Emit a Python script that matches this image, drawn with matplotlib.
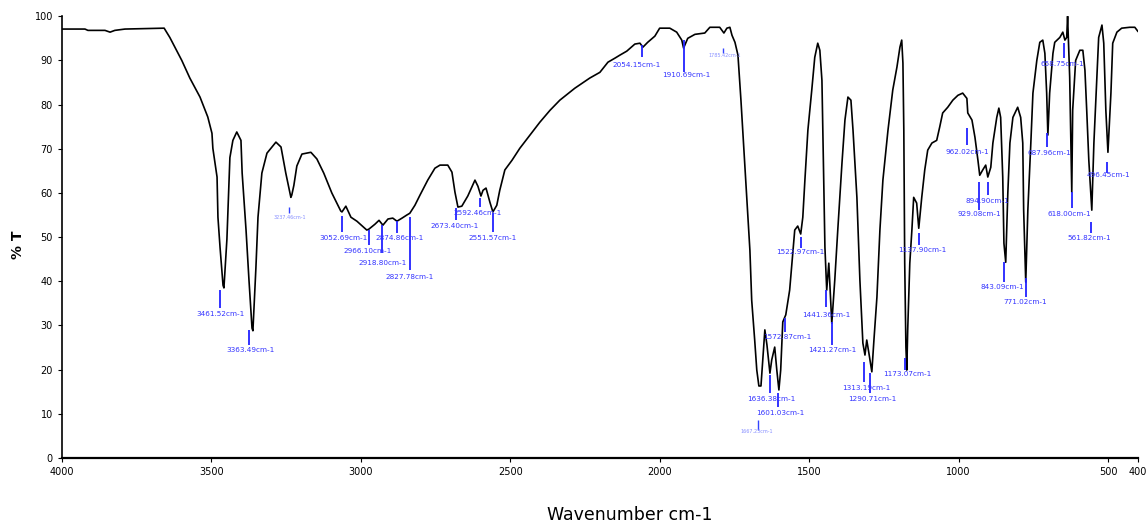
import matplotlib
matplotlib.use("Agg")
import matplotlib.pyplot as plt

# IR spectrum (wavenumber cm-1, %T)
wavenumber = [4000, 3923, 3913, 3856, 3839, 3823, 3789, 3658, 3639, 3599,
              3572, 3538, 3512, 3498, 3495, 3481, 3478, 3471, 3461, 3458,
              3448, 3438, 3428, 3415, 3401, 3397, 3384, 3374, 3364, 3361,
              3351, 3344, 3331, 3314, 3284, 3267, 3251, 3234, 3231, 3224,
              3214, 3197, 3167, 3147, 3124, 3097, 3067, 3063, 3050, 3033,
              3013, 2980, 2973, 2953, 2939, 2926, 2909, 2893, 2879, 2862,
              2846, 2836, 2819, 2802, 2776, 2752, 2735, 2709, 2695, 2685,
              2675, 2662, 2642, 2618, 2608, 2598, 2591, 2581, 2568, 2558,
              2545, 2535, 2518, 2494, 2468, 2434, 2401, 2367, 2334, 2284,
              2234, 2200, 2173, 2150, 2133, 2110, 2083, 2066, 2056, 2040,
              2016, 2000, 1966, 1943, 1926, 1920, 1906, 1882, 1849, 1832,
              1799, 1785, 1775, 1765, 1758, 1748, 1738, 1728, 1718, 1708,
              1698, 1692, 1682, 1675, 1668, 1661, 1655, 1648, 1641, 1631,
              1625, 1615, 1608, 1601, 1595, 1588, 1578, 1565, 1548, 1538,
              1528, 1521, 1514, 1504, 1491, 1481, 1471, 1464, 1457, 1454,
              1447, 1441, 1434, 1424, 1414, 1404, 1390, 1380, 1370, 1360,
              1353, 1340, 1330, 1320, 1313, 1307, 1300, 1290, 1283, 1273,
              1263, 1253, 1236, 1220, 1206, 1196, 1190, 1186, 1183, 1180,
              1176, 1173, 1170, 1163, 1156, 1150, 1140, 1133, 1123, 1113,
              1103, 1089, 1073, 1063, 1053, 1036, 1019, 1002, 986, 972,
              969, 955, 945, 935, 929, 919, 909, 902, 892, 885,
              872, 865, 859, 852, 848, 842, 835, 828, 818, 802,
              792, 785, 782, 775, 768, 758, 751, 738, 728, 718,
              711, 705, 701, 695, 684, 678, 661, 651, 644, 638,
              635, 628, 621, 618, 608, 594, 584, 577, 571, 564,
              554, 547, 537, 531, 520, 514, 507, 500, 490, 484,
              470, 454, 427, 410, 400]
transmittance = [97.1, 97.1, 96.8, 96.8, 96.4, 96.8, 97.1, 97.3, 95.2, 90.0,
                 86.0, 81.7, 77.2, 73.5, 70.1, 63.6, 54.5, 47.7, 39.1, 38.5,
                 49.5, 68.0, 71.9, 73.8, 71.9, 64.5, 51.6, 40.1, 29.4, 28.8,
                 43.0, 54.5, 64.5, 69.0, 71.5, 70.4, 64.5, 59.0, 59.5, 61.7,
                 66.1, 68.8, 69.2, 67.7, 64.5, 60.0, 55.9, 55.7, 57.0, 54.5,
                 53.6, 51.6, 51.8, 52.9, 53.8, 52.7, 54.1, 54.3, 53.6, 54.3,
                 55.0, 55.4, 57.2, 59.5, 62.9, 65.6, 66.3, 66.3, 64.7, 60.2,
                 56.8, 57.0, 59.3, 62.9, 61.5, 59.3, 60.6, 61.1, 57.9, 55.7,
                 57.2, 60.6, 65.2, 67.4, 70.1, 73.1, 76.0, 78.7, 81.0, 83.7,
                 86.0, 87.3, 89.6, 90.5, 91.2, 92.1, 93.7, 93.9, 93.0, 94.1,
                 95.5, 97.3, 97.3, 96.4, 94.6, 92.8, 95.0, 95.9, 96.2, 97.5,
                 97.5, 96.2, 97.3, 97.5, 95.7, 94.1, 91.2, 81.0, 69.7, 58.4,
                 47.0, 35.7, 26.7, 19.9, 16.3, 16.3, 22.2, 29.0, 25.6, 19.2,
                 22.2, 25.1, 19.9, 15.4, 19.9, 30.8, 32.4, 38.0, 51.6, 52.5,
                 50.7, 54.5, 62.9, 74.2, 83.3, 90.7, 93.9, 92.3, 85.5, 74.2,
                 47.7, 38.0, 44.1, 30.5, 40.3, 51.6, 66.7, 76.5, 81.7, 81.0,
                 74.2, 59.0, 40.3, 26.0, 23.3, 26.7, 23.8, 19.5, 26.7, 36.4,
                 51.6, 62.9, 74.2, 83.3, 88.5, 93.0, 94.6, 89.4, 74.2, 44.1,
                 25.1, 19.9, 29.0, 44.1, 51.6, 59.0, 57.7, 52.0, 59.0, 65.2,
                 69.7, 71.3, 71.9, 74.9, 78.1, 79.4, 81.0, 82.1, 82.6, 81.4,
                 78.1, 76.5, 72.6, 67.4, 64.0, 65.2, 66.3, 63.6, 65.8, 71.3,
                 77.1, 79.2, 77.1, 63.6, 48.6, 44.3, 60.0, 71.3, 77.1, 79.4,
                 77.1, 71.3, 56.1, 39.8, 56.1, 71.3, 82.6, 90.0, 94.1, 94.6,
                 91.6, 82.6, 73.1, 82.6, 91.6, 94.1, 95.2, 96.4, 94.6, 95.2,
                 100.0, 86.2, 60.2, 78.7, 90.0, 92.3, 92.3, 87.8, 78.7, 67.4,
                 56.1, 71.3, 86.2, 95.2, 98.0, 93.9, 78.7, 69.2, 82.6, 93.9,
                 96.4, 97.3, 97.5, 97.5, 96.6]

# peak picks: label, marker x, marker top, marker bottom, text x, text y
peak_labels = [
    ("3461.52cm-1", 3471, 38.0, 33.9, 3471, 32.6),
    ("3363.49cm-1", 3374, 29.0, 25.6, 3368, 24.4),
    ("3237.46cm-1", 3241, 56.8, 55.4, 3237, 54.5),
    ("3052.69cm-1", 3063, 54.8, 51.1, 3057, 49.8),
    ("2966.10cm-1", 2973, 51.6, 48.2, 2976, 46.8),
    ("2918.80cm-1", 2929, 52.7, 46.4, 2926, 44.1),
    ("2874.86cm-1", 2879, 53.6, 50.9, 2869, 49.8),
    ("2827.78cm-1", 2836, 54.5, 42.5, 2836, 40.9),
    ("2673.40cm-1", 2682, 56.6, 53.8, 2685, 52.5),
    ("2592.46cm-1", 2602, 58.8, 56.8, 2608, 55.4),
    ("2551.57cm-1", 2558, 55.4, 51.1, 2558, 49.8),
    ("2054.15cm-1", 2060, 93.4, 90.7, 2076, 88.9),
    ("1910.69cm-1", 1919, 94.6, 87.3, 1912, 86.6),
    ("1785.42cm-1", 1789, 92.8, 91.6, 1782, 91.2),
    ("1522.97cm-1", 1528, 50.0, 47.5, 1528, 46.6),
    ("1572.87cm-1", 1581, 31.7, 28.5, 1574, 27.4),
    ("1636.38cm-1", 1631, 18.8, 14.7, 1625, 13.3),
    ("1601.03cm-1", 1605, 14.7, 11.5, 1598, 10.2),
    ("1667.23cm-1", 1671, 8.6, 6.3, 1675, 5.9),
    ("1441.36cm-1", 1444, 38.0, 34.2, 1444, 32.4),
    ("1421.27cm-1", 1424, 30.8, 25.6, 1424, 24.4),
    ("1313.19cm-1", 1317, 21.7, 17.2, 1307, 15.8),
    ("1290.71cm-1", 1297, 19.2, 14.7, 1290, 13.3),
    ("1173.07cm-1", 1180, 22.6, 19.9, 1173, 19.0),
    ("1137.90cm-1", 1133, 50.9, 48.2, 1120, 47.0),
    ("962.02cm-1", 972, 74.7, 70.8, 972, 69.2),
    ("894.90cm-1", 902, 62.4, 59.5, 902, 58.1),
    ("929.08cm-1", 932, 62.4, 56.1, 929, 55.2),
    ("843.09cm-1", 848, 44.3, 39.8, 852, 38.7),
    ("771.02cm-1", 775, 40.7, 36.4, 778, 35.3),
    ("687.96cm-1", 705, 73.5, 70.4, 695, 69.0),
    ("658.75cm-1", 648, 93.9, 90.5, 651, 89.1),
    ("618.00cm-1", 621, 60.2, 56.6, 628, 55.2),
    ("561.82cm-1", 557, 53.4, 50.9, 561, 49.8),
    ("496.45cm-1", 504, 67.0, 64.5, 500, 64.0),
]
faint = {"3237.46cm-1", "1785.42cm-1", "1667.23cm-1"}

x_ticks = [4000, 3500, 3000, 2500, 2000, 1500, 1000, 500, 400]
y_ticks = list(range(0, 101, 10))

fig = plt.figure(figsize=(11.47, 5.24), dpi=100)
ax = fig.add_axes([0.054, 0.126, 0.938, 0.843])

ax.plot(wavenumber, transmittance, color="black", lw=1.2)

for lab, mx, top, bot, tx, ty in peak_labels:
    if lab in faint:
        ax.vlines(mx, bot, top, color="#3344ff", lw=1.0)
        ax.text(tx, ty, lab, color="#8890ff", fontsize=3.5, ha="center", va="center")
    else:
        ax.vlines(mx, bot, top, color="#2222ff", lw=1.3)
        ax.text(tx, ty, lab, color="#3333ff", fontsize=5.2, ha="center", va="center")

ax.set_xlim(4000, 400)
ax.set_ylim(0, 100)
ax.set_xticks(x_ticks)
ax.set_yticks(y_ticks)
ax.tick_params(labelsize=7, length=3, width=0.8, direction="out")
ax.spines["top"].set_visible(False)
ax.spines["right"].set_visible(False)
ax.spines["left"].set_linewidth(1.2)
ax.spines["bottom"].set_linewidth(1.6)

fig.text(0.016, 0.532, "% T", rotation=90, fontsize=10, fontweight="bold",
         ha="center", va="center")
fig.text(0.549, 0.017, "Wavenumber cm-1", fontsize=12.5, ha="center", va="center")

fig.savefig("out.png", dpi=100)
